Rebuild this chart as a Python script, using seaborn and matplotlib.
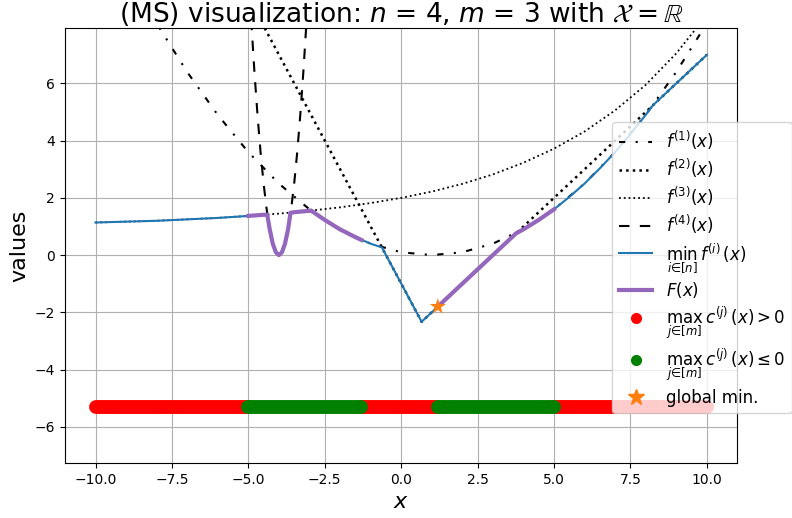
import numpy as np
import matplotlib
matplotlib.use("Agg")
import matplotlib.pyplot as plt
import seaborn as sns
from matplotlib.lines import Line2D

# f1 (dash-dot), read every 1.0
f1_x = [-10, -9, -8, -7, -6, -5, -4, -3, -2, -1, 0, 1, 2, 3, 4, 5, 6, 7, 8, 9, 10]
f1_y = [12.1, 10.0, 8.1, 6.4, 4.9, 3.6, 2.5, 1.6, 0.9, 0.4, 0.1, 0.0, 0.1, 0.4,
        0.9, 1.6, 2.5, 3.6, 4.9, 6.4, 8.1]

# f2 (dotted), piecewise linear
f2_x = [-10, 0.67, 10]
f2_y = [19.0, -2.33, 7.0]

# f3 (fine dotted)
f3_x = [-10, -9, -8, -7, -6, -5, -4, -3, -2, -1, 0, 1, 2, 3, 4, 5, 6, 7, 8, 9, 10]
f3_y = [1.14, 1.17, 1.20, 1.25, 1.30, 1.37, 1.45, 1.55, 1.67, 1.82, 2.00, 2.22,
        2.49, 2.82, 3.23, 3.72, 4.32, 5.06, 5.95, 7.05, 8.39]

# f4 (dashed), narrow well around x = -4
f4_x = [-5.0, -4.9, -4.8, -4.7, -4.6, -4.5, -4.4, -4.3, -4.2, -4.1, -4.0,
        -3.9, -3.8, -3.7, -3.6, -3.5, -3.4, -3.3, -3.2, -3.1, -3.0]
f4_y = [10.0, 8.1, 6.4, 4.9, 3.6, 2.5, 1.6, 0.9, 0.4, 0.1, 0.0,
        0.1, 0.4, 0.9, 1.6, 2.5, 3.6, 4.9, 6.4, 8.1, 10.0]

# min_i f^(i)(x)
min_x = [-10, -9, -8, -7, -6, -5, -4.5, -4.38, -4.3, -4.2, -4.1, -4.0, -3.9, -3.8,
         -3.7, -3.62, -3.5, -3.0, -2.95, -2.5, -2.0, -1.5, -1.0, -0.63, 0.67, 3.76,
         4.0, 4.5, 5.0, 5.5, 6.0, 6.5, 7.0, 7.5, 8.0, 8.24, 10]
min_y = [1.14, 1.17, 1.20, 1.25, 1.30, 1.37, 1.41, 1.41, 0.9, 0.4, 0.1, 0.0, 0.1, 0.4,
         0.9, 1.48, 1.50, 1.55, 1.56, 1.23, 0.9, 0.63, 0.4, 0.27, -2.33, 0.76,
         0.9, 1.23, 1.6, 2.03, 2.5, 3.03, 3.6, 4.23, 4.9, 5.24, 7.0]

# F(x) on the feasible pieces
F1_x = [-5.0, -4.5, -4.38, -4.3, -4.2, -4.1, -4.0, -3.9, -3.8, -3.7, -3.62, -3.5,
        -3.0, -2.95, -2.5, -2.0, -1.5, -1.3]
F1_y = [1.37, 1.41, 1.41, 0.9, 0.4, 0.1, 0.0, 0.1, 0.4, 0.9, 1.48, 1.50,
        1.55, 1.56, 1.23, 0.9, 0.63, 0.53]
F2_x = [1.2, 3.76, 4.0, 4.5, 5.0]
F2_y = [-1.8, 0.76, 0.9, 1.23, 1.6]

# constraint strip: intervals of x
band_y = -5.3
red_parts = [(-10, -5.0), (-1.3, 1.2), (5.0, 10)]
green_parts = [(-5.0, -1.3), (1.2, 5.0)]

star_x = [1.2]
star_y = [-1.8]

fig = plt.figure(figsize=(7.92, 5.18), dpi=100)
ax = fig.add_axes([0.082, 0.106, 0.849, 0.840])

sns.lineplot(x=f1_x, y=f1_y, ax=ax, color="k", linestyle=(0, (3, 5, 1, 5)), lw=1.5)
sns.lineplot(x=f2_x, y=f2_y, ax=ax, color="k", linestyle=":", lw=1.8)
sns.lineplot(x=f3_x, y=f3_y, ax=ax, color="k", linestyle=":", lw=1.3)
sns.lineplot(x=f4_x, y=f4_y, ax=ax, color="k", linestyle=(0, (5, 5)), lw=1.5)
sns.lineplot(x=min_x, y=min_y, ax=ax, color="tab:blue", lw=1.5)
sns.lineplot(x=F1_x, y=F1_y, ax=ax, color="tab:purple", lw=3)
sns.lineplot(x=F2_x, y=F2_y, ax=ax, color="tab:purple", lw=3)

for a, b in red_parts:
    ax.plot([a, b], [band_y, band_y], color="red", lw=10, solid_capstyle="round", zorder=3)
for a, b in green_parts:
    ax.plot([a, b], [band_y, band_y], color="green", lw=10, solid_capstyle="round", zorder=3)

sns.scatterplot(x=star_x, y=star_y, ax=ax, marker="*", s=150, color="tab:orange",
                edgecolor="none", zorder=5)

ax.set_xlim(-11, 11)
ax.set_ylim(-7.27, 7.94)
ax.set_xticks(np.arange(-10, 10.1, 2.5))
ax.grid(True, color="#b0b0b0", lw=0.8)
ax.set_axisbelow(True)
ax.set_xlabel(r"$x$", fontsize=16)
ax.set_ylabel("values", fontsize=16)
ax.set_title(r"(MS) visualization: $n$ = 4, $m$ = 3 with $\mathcal{X} = \mathbb{R}$",
             fontsize=19, pad=3)

handles = [
    Line2D([], [], color="k", linestyle=(0, (3, 5, 1, 5)), lw=1.5),
    Line2D([], [], color="k", linestyle=":", lw=1.8),
    Line2D([], [], color="k", linestyle=":", lw=1.3),
    Line2D([], [], color="k", linestyle=(0, (5, 5)), lw=1.5),
    Line2D([], [], color="tab:blue", lw=1.5),
    Line2D([], [], color="tab:purple", lw=3),
    Line2D([], [], color="red", marker="o", linestyle="none", markersize=7),
    Line2D([], [], color="green", marker="o", linestyle="none", markersize=7),
    Line2D([], [], color="tab:orange", marker="*", linestyle="none", markersize=12),
]
labels = [
    r"$f^{(1)}(x)$",
    r"$f^{(2)}(x)$",
    r"$f^{(3)}(x)$",
    r"$f^{(4)}(x)$",
    r"$\min_{i\in[n]}\,f^{(i)}(x)$",
    r"$F(x)$",
    r"$\max_{j\in[m]}\,c^{(j)}(x) > 0$",
    r"$\max_{j\in[m]}\,c^{(j)}(x) \leq 0$",
    "global min.",
]
ax.legend(handles, labels, loc="upper left", bbox_to_anchor=(0.814, 0.784),
          fontsize=12, labelspacing=0.29, borderaxespad=0)

fig.savefig("out.png", dpi=100)
